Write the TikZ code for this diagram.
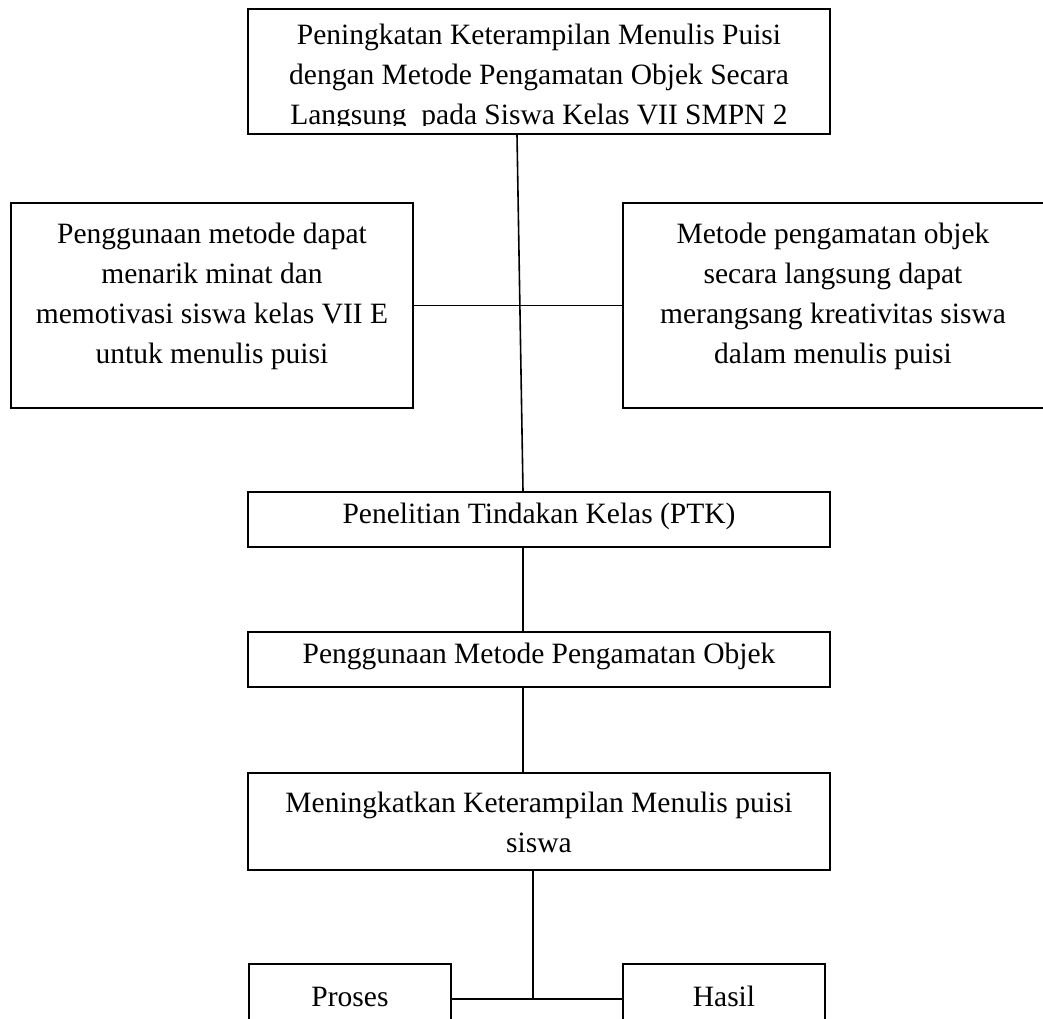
\documentclass[tikz,border=0pt]{standalone}
\usepackage{fontspec}
\setmainfont{Liberation Serif}
\usepackage{tikz}
\usetikzlibrary{positioning, calc}

\tikzset{
    kotak/.style={draw, line width=1.6pt, inner sep=0pt},
    teks/.style={inner sep=0pt, align=center, font=\fontsize{29.5}{40}\selectfont},
    garis/.style={line width=1.6pt},
}

\begin{document}
\begin{tikzpicture}[x=1pt, y=-1pt]
\useasboundingbox (0,0) rectangle (1043,1018);
\clip (0,0) rectangle (1043,1018);
% kotak-kotak
\node[kotak, minimum width=582, minimum height=125] (judul) at (539,71.5) {};
\node[kotak, minimum width=402, minimum height=205] (kiri) at (212,305.5) {};
\node[kotak, minimum width=437, minimum height=205] (kanan) at (841.5,305.5) {};
\node[kotak, teks, minimum width=582, minimum height=55, text height=20pt, text depth=13pt] (ptk) at (539,519.5)
    {Penelitian Tindakan Kelas (PTK)};
\node[kotak, teks, minimum width=582, minimum height=55, text height=20pt, text depth=13pt] (metode) at (539,659.5)
    {Penggunaan Metode Pengamatan Objek};
\node[kotak, minimum width=582, minimum height=97] (tujuan) at (539,821.5) {};
\node[kotak, teks, minimum width=202, minimum height=96, text height=20pt, text depth=32pt] (proses) at (350,1012) {Proses};
\node[kotak, teks, minimum width=202, minimum height=96, text height=20pt, text depth=32pt] (hasil) at (724,1012) {Hasil};
% teks
\begin{scope}
\clip ($(judul.south west)+(0,-9)$) rectangle (judul.north east);
\node[teks, anchor=north] (judulteks) at ($(judul.north)+(0,16)$)
    {Peningkatan Keterampilan Menulis Puisi\\
     dengan Metode Pengamatan Objek Secara\\
     Langsung\ \ pada Siswa Kelas VII SMPN 2};
\end{scope}
\node[teks, anchor=north] (kiriteks) at ($(kiri.north)+(0,21)$)
    {Penggunaan metode dapat\\menarik minat dan\\memotivasi siswa kelas VII E\\untuk menulis puisi};
\node[teks, anchor=north] (kananteks) at ($(kanan.north)+(-8.5,21)$)
    {Metode pengamatan objek\\secara langsung dapat\\merangsang kreativitas siswa\\dalam menulis puisi};
\node[teks, anchor=north] (tujuanteks) at ($(tujuan.north)+(0,20)$)
    {Meningkatkan Keterampilan Menulis puisi\\siswa};
% garis
\coordinate (cabang) at (533,999);
\draw[garis] ($(judul.south)+(-22,0)$) -- ($(ptk.north)+(-16,0)$);
\draw[garis] (kiri.east) -- (kanan.west);
\draw[garis] ($(ptk.south)+(-16,0)$) -- ($(metode.north)+(-16,0)$);
\draw[garis] ($(metode.south)+(-16,0)$) -- ($(tujuan.north)+(-16,0)$);
\draw[garis] (tujuan.south -| cabang) -- (cabang);
\draw[garis] (proses.east |- cabang) -- (hasil.west |- cabang);
\end{tikzpicture}
\end{document}
